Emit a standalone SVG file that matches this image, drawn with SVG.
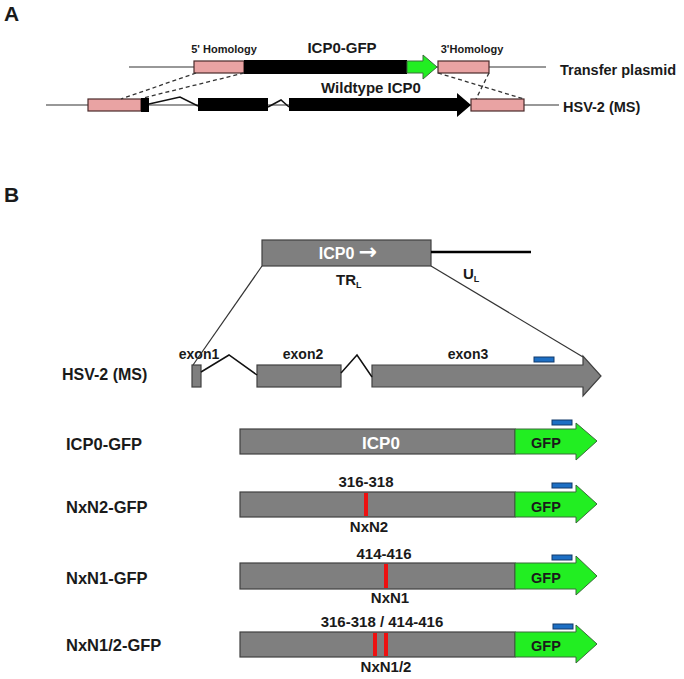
<svg xmlns="http://www.w3.org/2000/svg" width="684" height="679" viewBox="0 0 684 679">
<style>
text{font-family:"Liberation Sans",Arial,"DejaVu Sans",sans-serif;font-weight:bold;fill:#1a1a1a}
.pink{fill:#e9a3a3;stroke:#4a2a2a;stroke-width:1.2}
.blk{fill:#000}
.gray{fill:#7f7f7f;stroke:#404040;stroke-width:1.2}
.grn{fill:#22ee22;stroke:#3a6a3a;stroke-width:1}
.blue{fill:#1d6fc4;stroke:#123a6a;stroke-width:1}
.red{stroke:#ee1111;stroke-width:4}
.thin{stroke:#333;stroke-width:1.2;fill:none}
.dash{stroke:#333;stroke-width:1.3;stroke-dasharray:4 3;fill:none}
.intron{stroke:#111;stroke-width:1.5;fill:none}
.w{fill:#fff}
</style>
<rect width="684" height="679" fill="#fff"/>

<g id="panelA">
<text x="4" y="21" font-size="21">A</text>
<g id="transfer-plasmid">
<line x1="129" y1="67" x2="546" y2="67" class="thin"/>
<rect x="194" y="61" width="50" height="12" class="pink"/>
<rect x="244" y="60" width="163" height="14" class="blk"/>
<polygon points="407,61 423,61 423,55 437,67 423,79 423,73 407,73" class="grn"/>
<rect x="438" y="61" width="51" height="12" class="pink"/>
<text x="224" y="53" font-size="11" text-anchor="middle">5' Homology</text>
<text x="342" y="53" font-size="15" text-anchor="middle">ICP0-GFP</text>
<text x="472" y="53" font-size="11" text-anchor="middle">3'Homology</text>
<text x="560" y="75" font-size="14.5">Transfer plasmid</text>
</g>
<g id="hsv2-ms-a">
<line x1="46" y1="105" x2="559" y2="105" class="thin"/>
<rect x="88" y="99" width="53" height="12" class="pink"/>
<rect x="141" y="98" width="8" height="14" class="blk"/>
<rect x="198" y="98" width="70" height="13" class="blk"/>
<polygon points="289,98 457,98 457,93 471,105 457,117 457,111 289,111" class="blk"/>
<rect x="471" y="99" width="53" height="12" class="pink"/>
<text x="371" y="93" font-size="15" text-anchor="middle">Wildtype ICP0</text>
<text x="563" y="112" font-size="14.5">HSV-2 (MS)</text>
</g>
</g>

<g id="panelB">
<text x="4" y="202" font-size="21">B</text>
<g id="icp0-locus">
<rect x="262" y="240" width="169" height="26" class="gray"/>
<text x="348" y="259" font-size="16" text-anchor="middle" class="w">ICP0 <tspan font-family="'DejaVu Sans',sans-serif" font-size="22">→</tspan></text>
<line x1="431" y1="252" x2="531" y2="252" stroke="#000" stroke-width="2.5"/>
<text x="463" y="279" font-size="15">U<tspan font-size="9" dy="3">L</tspan></text>
<text x="336" y="285" font-size="15">TR<tspan font-size="9" dy="3">L</tspan></text>
</g>
<g id="hsv2-ms-b">
<text x="62" y="380" font-size="16">HSV-2 (MS)</text>
<rect x="192" y="365" width="9" height="22" class="gray"/>
<rect x="257" y="365" width="84" height="22" class="gray"/>
<polygon points="372,365 583,365 583,356 601,376 583,396 583,387 372,387" class="gray"/>
<rect x="534" y="357" width="20" height="5" class="blue"/>
<text x="199" y="359" font-size="14" text-anchor="middle">exon1</text>
<text x="303" y="359" font-size="14" text-anchor="middle">exon2</text>
<text x="468" y="359" font-size="14" text-anchor="middle">exon3</text>
</g>

<g id="icp0-gfp">
<text x="66" y="450" font-size="16.5">ICP0-GFP</text>
<rect x="240" y="429" width="275" height="25" class="gray"/>
<polygon points="515,429 576,429 576,423 597,441 576,460 576,454 515,454" class="grn"/>
<rect x="552" y="420" width="20" height="5" class="blue"/>
<text x="381" y="449" font-size="17" text-anchor="middle" class="w">ICP0</text>
<text x="546" y="448" font-size="14.5" text-anchor="middle">GFP</text>
</g>

<g id="nxn2-gfp">
<text x="66" y="513" font-size="16.5">NxN2-GFP</text>
<rect x="240" y="492" width="275" height="25" class="gray"/>
<polygon points="515,492 576,492 576,485 597,504 576,523 576,517 515,517" class="grn"/>
<rect x="552" y="483" width="20" height="5" class="blue"/>
<line x1="366" y1="493" x2="366" y2="516" class="red"/>
<text x="366" y="487" font-size="15" text-anchor="middle">316-318</text>
<text x="369" y="532" font-size="15" text-anchor="middle">NxN2</text>
<text x="546" y="512" font-size="14.5" text-anchor="middle">GFP</text>
</g>

<g id="nxn1-gfp">
<text x="66" y="584" font-size="16.5">NxN1-GFP</text>
<rect x="240" y="563" width="275" height="26" class="gray"/>
<polygon points="515,563 576,563 576,556 597,576 576,595 576,589 515,589" class="grn"/>
<rect x="552" y="555" width="20" height="5" class="blue"/>
<line x1="386" y1="564" x2="386" y2="588" class="red"/>
<text x="384" y="559" font-size="15" text-anchor="middle">414-416</text>
<text x="390" y="603" font-size="15" text-anchor="middle">NxN1</text>
<text x="546" y="583" font-size="14.5" text-anchor="middle">GFP</text>
</g>

<g id="nxn12-gfp">
<text x="66" y="651" font-size="16.5">NxN1/2-GFP</text>
<rect x="240" y="632" width="275" height="25" class="gray"/>
<polygon points="515,632 576,632 576,625 597,644 576,663 576,657 515,657" class="grn"/>
<rect x="553" y="624" width="20" height="5" class="blue"/>
<line x1="375" y1="633" x2="375" y2="656" class="red"/>
<line x1="386" y1="633" x2="386" y2="656" class="red"/>
<text x="382" y="627" font-size="15" text-anchor="middle">316-318 / 414-416</text>
<text x="386" y="672" font-size="15" text-anchor="middle">NxN1/2</text>
<text x="546" y="651" font-size="14.5" text-anchor="middle">GFP</text>
</g>
</g>

<g id="connectors">
<line x1="196" y1="73" x2="121" y2="99" class="dash"/>
<line x1="244" y1="73" x2="143" y2="98" class="dash"/>
<line x1="438" y1="73" x2="524" y2="99" class="dash"/>
<line x1="489" y1="73" x2="476" y2="99" class="dash"/>
<polyline points="149,104 180,97 198,106" class="intron"/>
<polyline points="268,107 281,100 289,107" class="intron"/>
<line x1="262" y1="266" x2="193" y2="365" class="thin"/>
<line x1="431" y1="266" x2="583" y2="357" class="thin"/>
<polyline points="201,372 229,355 257,375" class="intron"/>
<polyline points="341,373 357,355 372,377" class="intron"/>
</g>
</svg>
